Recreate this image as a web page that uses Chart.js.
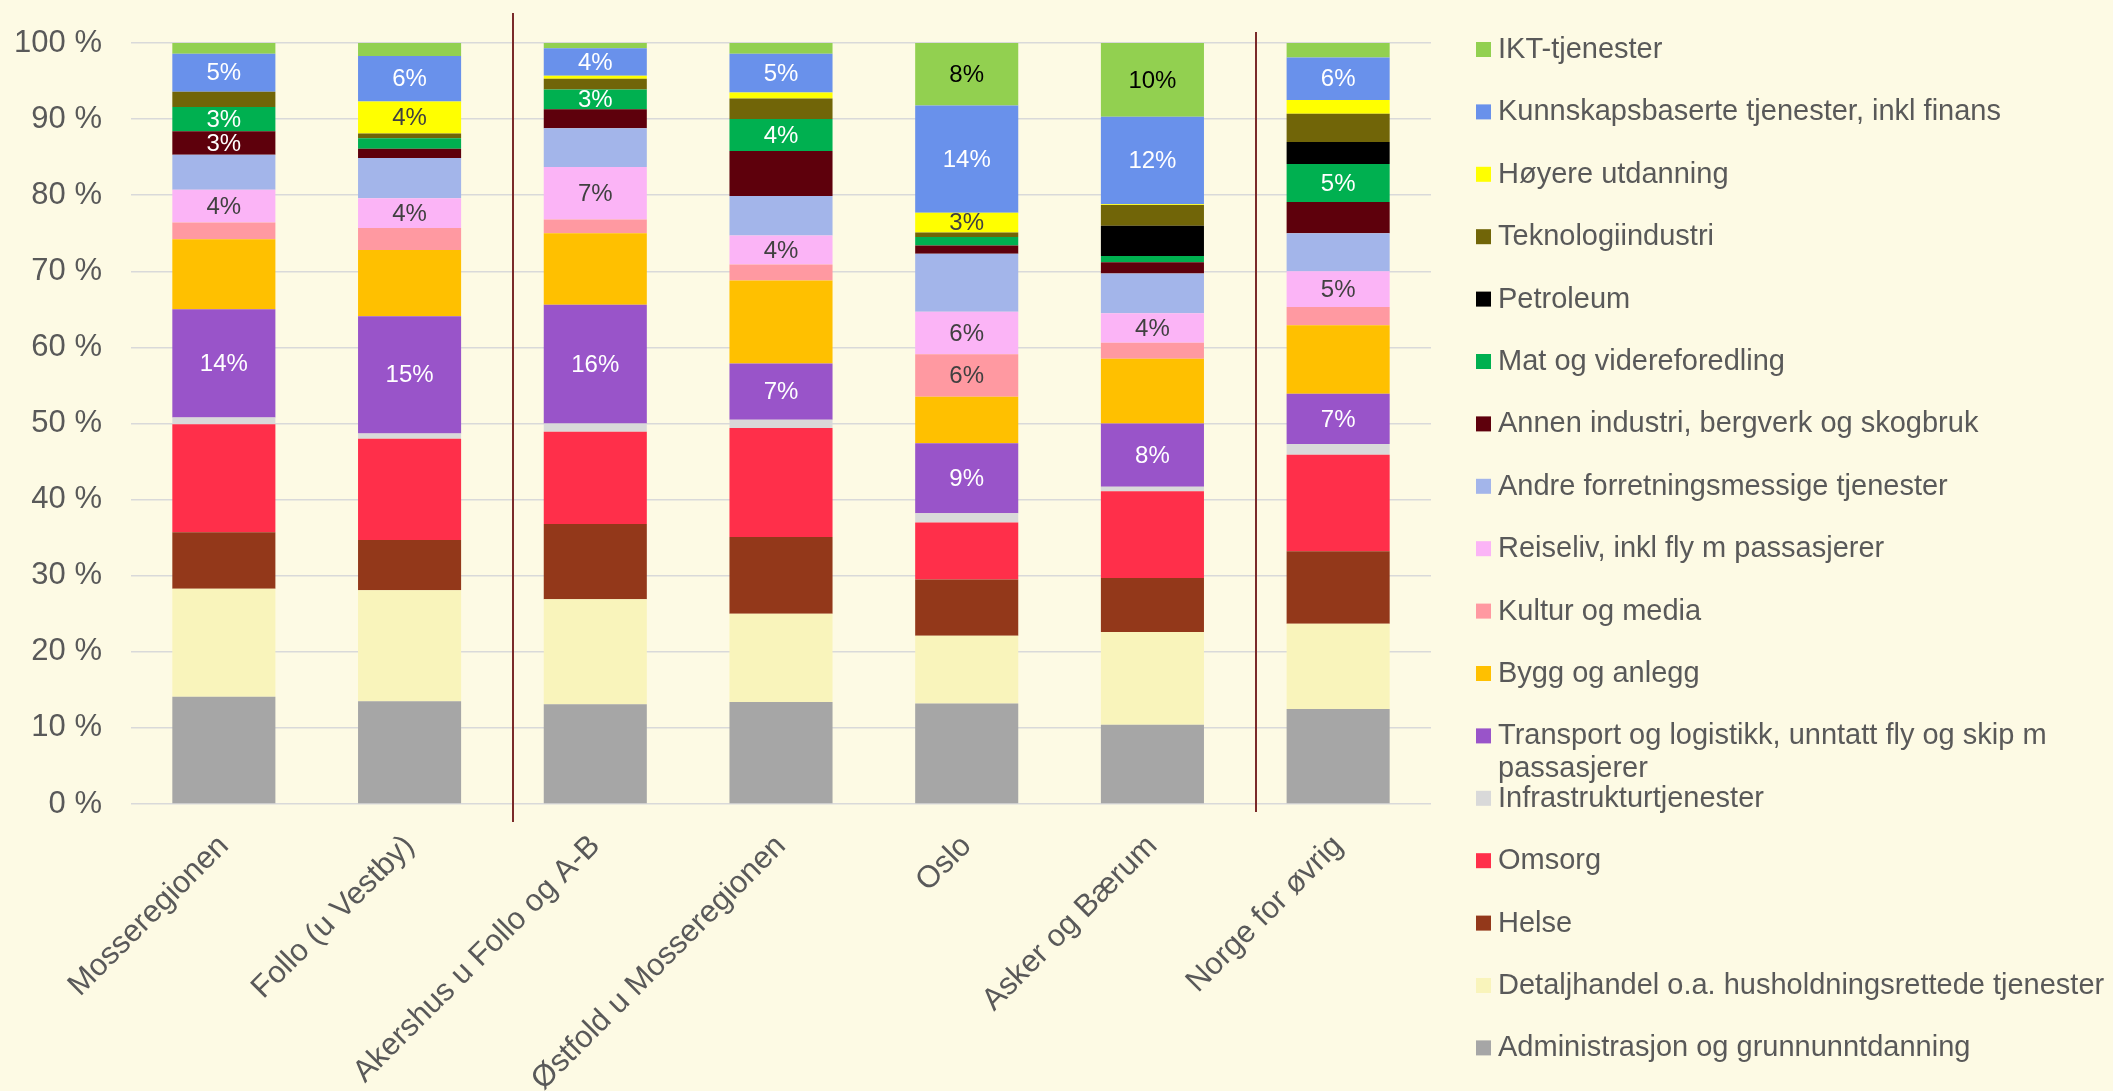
<!DOCTYPE html>
<html>
<head>
<meta charset="utf-8">
<script src="https://cdn.jsdelivr.net/npm/chart.js@4.4.1/dist/chart.umd.min.js"></script>
<style>
  html, body { margin: 0; padding: 0; background: #fdfae4; }
  #wrap { width: 2113px; height: 1091px; }
</style>
</head>
<body>
<div id="wrap"><canvas id="sectorChart" width="2113" height="1091"></canvas></div>
<script>
// regions on the x axis
let categories = ['Mosseregionen', 'Follo (u Vestby)', 'Akershus u Follo og A-B', 'Østfold u Mosseregionen', 'Oslo', 'Asker og Bærum', 'Norge for øvrig']

// share of employment (%), stacked bottom to top
let administrasjon = [14.1, 13.5, 13.1, 13.4, 13.2, 10.4, 12.5]
let detaljhandel = [14.2, 14.6, 13.8, 11.6, 8.9, 12.2, 11.2]
let helse = [7.4, 6.6, 9.9, 10.1, 7.4, 7.1, 9.5]
let omsorg = [14.2, 13.3, 12.1, 14.3, 7.5, 11.4, 12.7]
let infrastruktur = [0.9, 0.7, 1.1, 1.1, 1.2, 0.6, 1.4]
let transport = [14.2, 15.4, 15.6, 7.4, 9.2, 8.3, 6.6]
let bygg = [9.2, 8.7, 9.4, 10.9, 6.1, 8.5, 9.0]
let kultur = [2.2, 2.9, 1.8, 2.1, 5.6, 2.1, 2.4]
let reiseliv = [4.3, 3.9, 6.9, 3.8, 5.6, 3.9, 4.7]
let andreForretning = [4.6, 5.3, 5.1, 5.2, 7.6, 5.2, 5.0]
let annenIndustri = [3.1, 1.2, 2.5, 5.9, 1.1, 1.5, 4.1]
let mat = [3.2, 1.4, 2.6, 4.2, 1.1, 0.8, 5.0]
let petroleum = [0, 0, 0, 0, 0, 4.0, 2.9]
let teknologi = [2.0, 0.6, 1.4, 2.7, 0.6, 2.7, 3.7]
let hoyereUtdanning = [0, 4.2, 0.4, 0.8, 2.6, 0.1, 1.8]
let kunnskap = [5.0, 6.0, 3.6, 5.1, 14.1, 11.5, 5.6]
let ikt = [1.4, 1.7, 0.7, 1.4, 8.2, 9.7, 1.9]

let yTicks = [0, 10, 20, 30, 40, 50, 60, 70, 80, 90, 100]

// which bars carry a value label (category indexes)
let allCats = [0, 1, 2, 3, 4, 5, 6]
let labelledIkt = [4, 5]
let labelledKunnskap = allCats
let labelledHoyere = [1, 4]
let labelledMat = [0, 2, 3, 6]
let labelledAnnen = [0]
let labelledReiseliv = allCats
let labelledKultur = [4]
let labelledTransport = allCats

let series = [
    {label: 'Administrasjon og grunnunntdanning', data: administrasjon, color: '#a6a6a6'},
    {label: 'Detaljhandel o.a. husholdningsrettede tjenester', data: detaljhandel, color: '#f9f4bb'},
    {label: 'Helse', data: helse, color: '#93381a'},
    {label: 'Omsorg', data: omsorg, color: '#ff2f4a'},
    {label: 'Infrastrukturtjenester', data: infrastruktur, color: '#d9d9d9'},
    {label: 'Transport og logistikk, unntatt fly og skip m passasjerer', data: transport, color: '#9954c9', shown: labelledTransport, text: '#ffffff'},
    {label: 'Bygg og anlegg', data: bygg, color: '#ffc000'},
    {label: 'Kultur og media', data: kultur, color: '#ff99a1', shown: labelledKultur, text: '#404040'},
    {label: 'Reiseliv, inkl fly m passasjerer', data: reiseliv, color: '#fbb4f6', shown: labelledReiseliv, text: '#404040'},
    {label: 'Andre forretningsmessige tjenester', data: andreForretning, color: '#a3b5ea'},
    {label: 'Annen industri, bergverk og skogbruk', data: annenIndustri, color: '#5e000c', shown: labelledAnnen, text: '#ffffff'},
    {label: 'Mat og videreforedling', data: mat, color: '#00b050', shown: labelledMat, text: '#ffffff'},
    {label: 'Petroleum', data: petroleum, color: '#000000'},
    {label: 'Teknologiindustri', data: teknologi, color: '#716508'},
    {label: 'Høyere utdanning', data: hoyereUtdanning, color: '#ffff00', shown: labelledHoyere, text: '#404040'},
    {label: 'Kunnskapsbaserte tjenester, inkl finans', data: kunnskap, color: '#6991eb', shown: labelledKunnskap, text: '#ffffff'},
    {label: 'IKT-tjenester', data: ikt, color: '#92d050', shown: labelledIkt, text: '#000000'}
]

const FONT = '"Liberation Sans", Arial, sans-serif'

// value labels in the middle of chosen segments
const valueLabels = {
    id: 'valueLabels',
    afterDatasetsDraw(chart) {
        let ctx = chart.ctx
        ctx.save()
        ctx.font = '24px ' + FONT
        ctx.textAlign = 'center'
        ctx.textBaseline = 'middle'
        chart.data.datasets.forEach((ds, d) => {
            if (!ds.shown) return
            let meta = chart.getDatasetMeta(d)
            ds.shown.forEach(i => {
                let bar = meta.data[i]
                ctx.fillStyle = ds.textColor
                ctx.fillText(Math.round(ds.data[i]) + '%', bar.x, (bar.y + bar.base) / 2 + 1)
            })
        })
        ctx.restore()
    }
}

// the two dark vertical dividers between groups
const dividers = {
    id: 'dividers',
    afterDatasetsDraw(chart) {
        let ctx = chart.ctx
        let x = chart.scales.x
        let area = chart.chartArea
        ctx.save()
        ctx.strokeStyle = '#7a2a2a'
        ctx.lineWidth = 2
        ;[[1.555, -30, 18], [5.56, -11, 8]].forEach(([pos, up, down]) => {
            let px = x.getPixelForValue(0) + (x.getPixelForValue(1) - x.getPixelForValue(0)) * pos
            ctx.beginPath()
            ctx.moveTo(Math.round(px), area.top + up)
            ctx.lineTo(Math.round(px), area.bottom + down)
            ctx.stroke()
        })
        ctx.restore()
    }
}

function wrapLine(ctx, text, maxWidth) {
    let words = text.split(' ')
    let lines = []
    let line = ''
    words.forEach(w => {
        let test = line ? line + ' ' + w : w
        if (line && ctx.measureText(test).width > maxWidth) {
            lines.push(line)
            line = w
        } else {
            line = test
        }
    })
    lines.push(line)
    return lines
}

// legend on the right, top entry = top of the stack
const sideLegend = {
    id: 'sideLegend',
    afterDraw(chart) {
        let ctx = chart.ctx
        let area = chart.chartArea
        let boxX = area.right + 45
        let textX = boxX + 22
        let maxW = chart.width - textX + 12
        ctx.save()
        ctx.font = '29px ' + FONT
        ctx.textAlign = 'left'
        ctx.textBaseline = 'middle'
        chart.data.datasets.slice().reverse().forEach((ds, i) => {
            let y = area.top + 6 + i * 62.4
            ctx.fillStyle = ds.backgroundColor
            ctx.fillRect(boxX, y - 7, 15, 15)
            ctx.fillStyle = '#595959'
            wrapLine(ctx, ds.label, maxW).forEach((line, j) => {
                ctx.fillText(line, textX, y + 1 + j * 33)
            })
        })
        ctx.restore()
    }
}

let datasets = series.map(s => ({
    label: s.label,
    data: s.data,
    backgroundColor: s.color,
    borderWidth: 0,
    shown: s.shown,
    textColor: s.text
}))

let chart = new Chart(document.getElementById('sectorChart'), {
    type: 'bar',
    data: {labels: categories, datasets},
    plugins: [dividers, valueLabels, sideLegend],
    options: {
        responsive: false,
        animation: false,
        devicePixelRatio: 1,
        layout: {padding: {top: 43, right: 682, left: 0, bottom: 0}},
        datasets: {bar: {barPercentage: 0.555, categoryPercentage: 1}},
        plugins: {
            legend: {display: false},
            tooltip: {enabled: false}
        },
        scales: {
            x: {
                stacked: true,
                grid: {display: false},
                border: {display: false},
                ticks: {
                    color: '#595959',
                    font: {family: FONT, size: 31},
                    minRotation: 45,
                    maxRotation: 45,
                    autoSkip: false,
                    padding: 16
                },
                afterFit: s => { s.height = 287 }
            },
            y: {
                stacked: true,
                min: 0,
                max: 100,
                afterBuildTicks: s => { s.ticks = yTicks.map(v => ({value: v})) },
                grid: {color: '#d9d9d9', lineWidth: 1.5, drawTicks: false},
                border: {display: false},
                ticks: {
                    color: '#595959',
                    font: {family: FONT, size: 31},
                    padding: 29,
                    callback: v => v + ' %'
                },
                afterFit: s => {
                    s.width = 131
                    s.paddingTop = 0
                    s.paddingBottom = 0
                }
            }
        }
    }
})
</script>
</body>
</html>
